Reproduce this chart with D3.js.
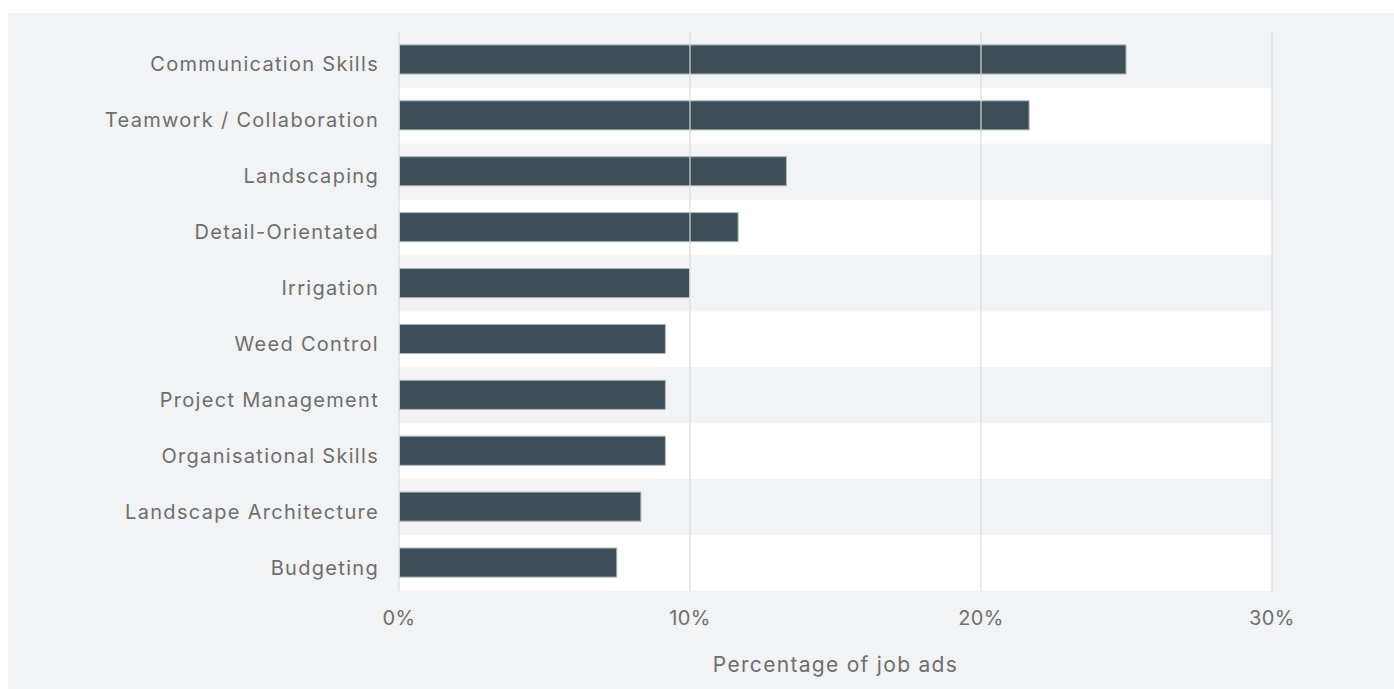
<!DOCTYPE html>
<html>
<head>
<meta charset="utf-8">
<script src="https://cdn.jsdelivr.net/npm/d3@7"></script>
<style>
  html, body { margin: 0; padding: 0; background: #ffffff; }
  svg { display: block; }
  text { font-family: Inter, "Open Sans", sans-serif; fill: #6e6e6e; }
</style>
</head>
<body>
<svg id="chart"></svg>
<script>
// skills, share of job ads (%)
const skills = [
  'Communication Skills',
  'Teamwork / Collaboration',
  'Landscaping',
  'Detail-Orientated',
  'Irrigation',
  'Weed Control',
  'Project Management',
  'Organisational Skills',
  'Landscape Architecture',
  'Budgeting'
];
const shares = [25.0, 21.67, 13.33, 11.67, 10.0, 9.17, 9.17, 9.17, 8.33, 7.5];
const ticks = [0, 10, 20, 30];
const axisTitle = 'Percentage of job ads';

const [W, H] = [1394, 689];
const m = { top: 32, right: 122, bottom: 98, left: 399 };

const svg = d3.select('#chart').attr('width', W).attr('height', H);

// grey panel
svg.append('rect')
  .attr('x', 8).attr('y', 13).attr('width', W - 8).attr('height', H - 13)
  .attr('fill', '#f2f3f5');

const x = d3.scaleLinear().domain([0, 30]).range([m.left, W - m.right]);
const y = d3.scaleBand().domain(skills).range([m.top, H - m.bottom]).paddingInner(0);
const barPad = 0.24;

// alternating row bands
svg.append('g').selectAll('rect')
  .data(skills).join('rect')
  .attr('x', x(0)).attr('width', x(30) - x(0))
  .attr('y', d => y(d)).attr('height', y.bandwidth())
  .attr('fill', (d, i) => i % 2 ? '#ffffff' : '#f2f3f5');

// bars
svg.append('g').selectAll('rect')
  .data(skills).join('rect')
  .attr('x', x(0) + 0.5)
  .attr('y', d => y(d) + y.bandwidth() * barPad - 0.5)
  .attr('width', (d, i) => x(shares[i]) - x(0) - 1)
  .attr('height', y.bandwidth() * (1 - 2 * barPad))
  .attr('fill', '#3d4e57')
  .attr('stroke', '#a9b3ba').attr('stroke-width', 1);

// gridlines on top
svg.append('g').selectAll('line')
  .data(ticks).join('line')
  .attr('x1', d => x(d)).attr('x2', d => x(d))
  .attr('y1', m.top).attr('y2', H - m.bottom)
  .attr('stroke', '#d9dbde').attr('stroke-width', 1.2);

// category labels
svg.append('g').selectAll('text')
  .data(skills).join('text')
  .attr('x', m.left - 20)
  .attr('y', d => y(d) + y.bandwidth() / 2 + 11.5)
  .attr('text-anchor', 'end')
  .attr('font-size', 20)
  .attr('letter-spacing', 1.3)
  .text(d => d);

// x tick labels
svg.append('g').selectAll('text')
  .data(ticks).join('text')
  .attr('x', d => x(d))
  .attr('y', 625)
  .attr('text-anchor', 'middle')
  .attr('font-size', 20)
  .attr('letter-spacing', 0.4)
  .text(d => d3.format('d')(d) + '%');

// axis title
svg.append('text')
  .attr('x', (x(0) + x(30)) / 2)
  .attr('y', 672)
  .attr('text-anchor', 'middle')
  .attr('font-size', 21)
  .attr('letter-spacing', 1.3)
  .text(axisTitle);
</script>
</body>
</html>
